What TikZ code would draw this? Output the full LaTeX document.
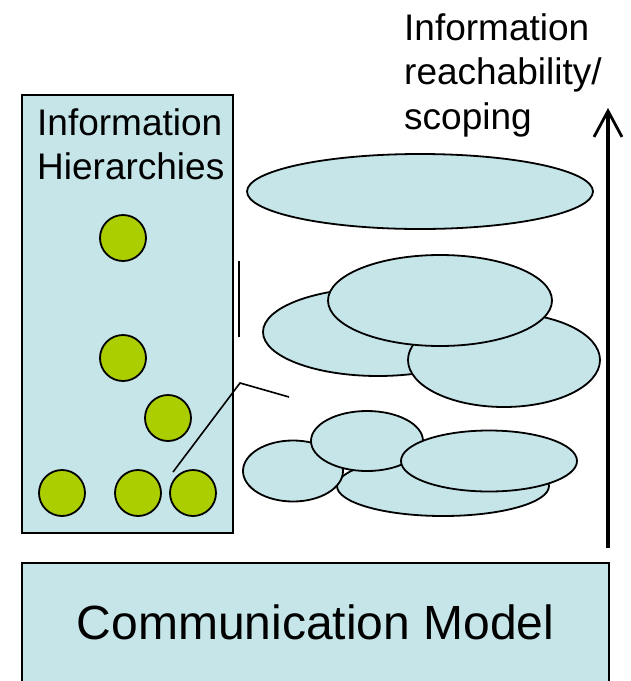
\documentclass[tikz,border=0pt]{standalone}
\usepackage{fontspec}
\setmainfont{Liberation Sans}
\usepackage{tikz}
\usetikzlibrary{arrows.meta}
\definecolor{paleblue}{RGB}{197,229,232}
\definecolor{leaf}{RGB}{170,206,0}

\begin{document}
\begin{tikzpicture}[x=1pt,y=-1pt,
    blob/.style={draw,fill=paleblue,line width=1.8pt},
    dot/.style={circle,draw,fill=leaf,line width=1.8pt,minimum size=46pt,inner sep=0pt},
    label/.style={inner sep=0pt,align=left,font=\fontsize{37}{44.5}\selectfont}]

    \useasboundingbox (0,0) rectangle (631,681);
    \clip (0,0) rectangle (631,681);

    % left panel
    \draw[fill=paleblue,line width=1.8pt] (22,95) rectangle (233,533);
    \node[label,anchor=north west] (hier) at (37,108) {Information\\Hierarchies};

    \node[dot] (d1) at (123,238) {};
    \node[dot] (d2) at (123,358) {};
    \node[dot] (d3) at (168,418) {};
    \node[dot] (d4) at (62,493) {};
    \node[dot] (d5) at (138,493) {};
    \node[dot] (d6) at (193,493) {};

    \coordinate (bar1) at (239,261);
    \coordinate (bar2) at (239,337);
    \coordinate (k1) at (173,472);
    \coordinate (k2) at (240,383);
    \coordinate (k3) at (289,397);
    \draw[line width=1.6pt] (bar1) -- (bar2);
    \draw[line width=1.6pt] (k1) -- (k2) -- (k3);

    % scopes
    \draw[blob] (420,191.5) ellipse (173 and 37.5);

    \draw[blob] (378,332) ellipse (115 and 44);
    \draw[blob] (504,360) ellipse (96 and 47);
    \draw[blob] (440,300.5) ellipse (112 and 45.5);

    \draw[blob] (443,486) ellipse (106 and 30);
    \draw[blob] (293,471) ellipse (50 and 30.5);
    \draw[blob] (367,441) ellipse (56 and 30);
    \draw[blob] (489,461) ellipse (88 and 30.5);

    % reachability arrow
    \node[label,anchor=north west] (reach) at (404,13) {Information\\reachability/\\scoping};
    \coordinate (up0) at (608,548);
    \coordinate (up1) at (608,108);
    \draw[line width=3.5pt,-{Straight Barb[length=26pt,width=28pt,line width=2.8pt]}] (up0) -- (up1);

    % base layer
    \draw[fill=paleblue,line width=1.8pt] (22,563) rectangle (609,700);
    \node[inner sep=0pt,anchor=base,font=\fontsize{48}{56}\selectfont] (comm) at (315.5,639) {Communication Model};

  \end{tikzpicture}
\end{document}
